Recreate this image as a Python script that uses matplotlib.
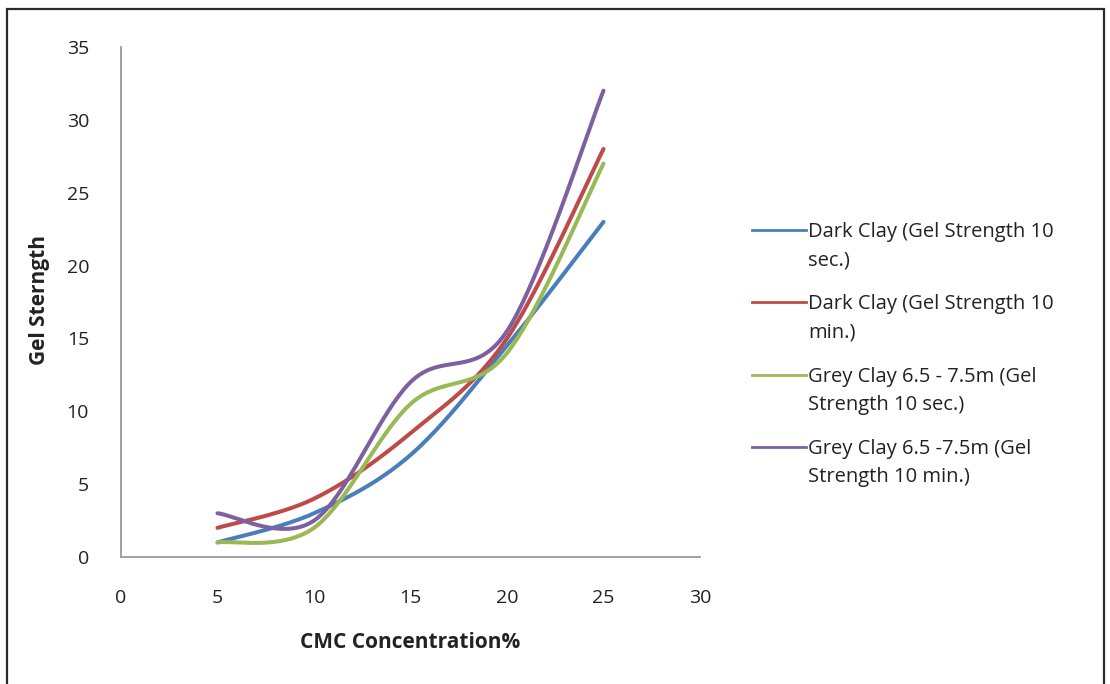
import numpy as np
import matplotlib.pyplot as plt
from matplotlib.lines import Line2D
from matplotlib.patches import Rectangle

plt.rcParams['font.family'] = ['Open Sans', 'DejaVu Sans']

# Data
cmc = [5, 10, 15, 20, 25]
dark_10s = [1, 3, 7, 14.5, 23]
dark_10m = [2, 4, 8.5, 15, 28]
grey_10s = [1, 2, 10.5, 14, 27]
grey_10m = [3, 2.5, 12, 15.5, 32]

labels = ['Dark Clay (Gel Strength 10\nsec.)',
          'Dark Clay (Gel Strength 10\nmin.)',
          'Grey Clay 6.5 - 7.5m (Gel\nStrength 10 sec.)',
          'Grey Clay 6.5 -7.5m (Gel\nStrength 10 min.)']
colors = ['#4A7EBB', '#BE4B48', '#98B954', '#7D60A0']
series = [dark_10s, dark_10m, grey_10s, grey_10m]


def smooth(x, y, n=40):
    # Excel-like smoothed line: Catmull-Rom style cubic Bezier segments
    p = np.column_stack([x, y]).astype(float)
    pts = np.vstack([p[0], p, p[-1]])
    t = np.linspace(0, 1, n)[:, None]
    out = []
    for i in range(1, len(pts) - 2):
        p0, p1, p2, p3 = pts[i - 1], pts[i], pts[i + 1], pts[i + 2]
        c1 = p1 + (p2 - p0) / 6
        c2 = p2 - (p3 - p1) / 6
        seg = ((1 - t) ** 3) * p1 + 3 * ((1 - t) ** 2) * t * c1 \
            + 3 * (1 - t) * t ** 2 * c2 + t ** 3 * p2
        out.append(seg if i == 1 else seg[1:])
    out = np.vstack(out)
    return out[:, 0], out[:, 1]


fig = plt.figure(figsize=(11.1, 6.84), dpi=100)
ax = fig.add_axes([121 / 1110, 1 - 557 / 684, (700 - 121) / 1110, (557 - 47) / 684])

for ys, c in zip(series, colors):
    sx, sy = smooth(cmc, ys)
    ax.plot(sx, sy, color=c, lw=2.9, solid_capstyle='round')

ax.set_xlim(0, 30)
ax.set_ylim(0, 35)
ax.set_xticks(range(0, 31, 5))
ax.set_yticks(range(0, 36, 5))
for s in ['top', 'right']:
    ax.spines[s].set_visible(False)
for s in ['left', 'bottom']:
    ax.spines[s].set_color('#9a9a9a')
    ax.spines[s].set_linewidth(1.3)
ax.tick_params(length=0, labelsize=14, colors='#222222')
ax.tick_params(axis='x', pad=23)
ax.tick_params(axis='y', pad=23)

fig.text(410 / 1110, 1 - 643 / 684, 'CMC Concentration%', ha='center', va='center',
         fontsize=15, fontweight='bold', color='#222222')
fig.text(40 / 1110, 1 - 300 / 684, 'Gel Sterngth', ha='center', va='center',
         rotation=90, fontsize=15, fontweight='bold', color='#222222')

# Legend drawn by hand (handle sits on the first text line)
ly = [230, 302, 375, 447]
for y, c, lab in zip(ly, colors, labels):
    fy = 1 - y / 684
    fig.add_artist(Line2D([752 / 1110, 806 / 1110], [fy, fy], color=c, lw=2))
    fig.text(808 / 1110, 1 - (y - 8) / 684, lab, ha='left', va='top', fontsize=14.5,
             color='#222222', linespacing=1.55)

# outer frame
fig.add_artist(Rectangle((7 / 1110, -0.02), (1104 - 7) / 1110, 1.02 - 9 / 684,
                         transform=fig.transFigure, fill=False,
                         edgecolor='#2a2a2a', lw=1.6))

fig.savefig('out.png', dpi=100)
